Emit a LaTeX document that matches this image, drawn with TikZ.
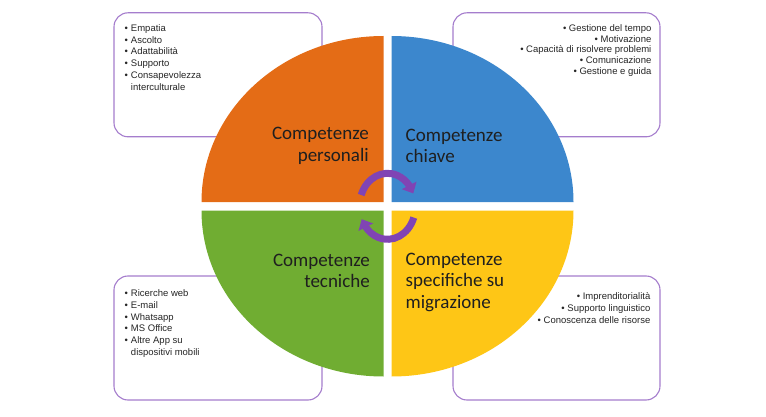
\documentclass[tikz,border=0pt]{standalone}
\usepackage{fontspec}
\setmainfont{Carlito}
\newfontfamily\listfont{Liberation Sans}
\usetikzlibrary{arrows.meta, bending, positioning, calc}

\definecolor{qorange}{RGB}{228,108,22}
\definecolor{qblue}{RGB}{60,135,205}
\definecolor{qgreen}{RGB}{112,173,50}
\definecolor{qyellow}{RGB}{254,198,22}
\definecolor{boxline}{RGB}{165,125,205}
\definecolor{cycpurple}{RGB}{128,68,180}

\begin{document}
\begin{tikzpicture}[
    x=1pt, y=-1pt,
    infobox/.style={rectangle, draw=boxline, line width=1.1pt, fill=white, rounded corners=14pt, minimum width=208pt, minimum height=124pt, inner sep=0pt},
    listl/.style={inner sep=0pt, font=\listfont\fontsize{9.5}{11.8}\selectfont, text=black!85},
    listr/.style={inner sep=0pt, align=right, font=\listfont\fontsize{9.5}{10.7}\selectfont, text=black!85},
    title/.style={inner sep=0pt, font=\fontsize{19}{21.5}\selectfont, text=black!88},
    cyc/.style={draw=cycpurple, line width=7pt, -{Triangle[width=16pt,length=9pt]}},
]
\useasboundingbox (0,0) rectangle (766,417);

% boxes behind the circle
\node[infobox] (boxpers) at (218,74.8) {};
\node[infobox, minimum width=207pt] (boxchiave) at (556.5,74.8) {};
\node[infobox] (boxtec) at (218,338) {};
\node[infobox, minimum width=207pt] (boxmig) at (556.5,338) {};

\node[listl, below right=10.5pt and 11pt of boxpers.north west] (listpers) {%
  \begin{tabular}{@{}l@{\hspace{3pt}}l@{}}
  \textbullet & Empatia\\
  \textbullet & Ascolto\\
  \textbullet & Adattabilità\\
  \textbullet & Supporto\\
  \textbullet & Consapevolezza\\
              & interculturale
  \end{tabular}};
\node[listr, below left=12pt and 9pt of boxchiave.north east] (listchiave) {%
  \textbullet\ Gestione del tempo\\
  \textbullet\ Motivazione\\
  \textbullet\ Capacità di risolvere problemi\\
  \textbullet\ Comunicazione\\
  \textbullet\ Gestione e guida};
\node[listl, below right=12.5pt and 11pt of boxtec.north west] (listtec) {%
  \begin{tabular}{@{}l@{\hspace{3pt}}l@{}}
  \textbullet & Ricerche web\\
  \textbullet & E-mail\\
  \textbullet & Whatsapp\\
  \textbullet & MS Office\\
  \textbullet & Altre App su\\
              & dispositivi mobili
  \end{tabular}};
\node[listr, font=\listfont\fontsize{9.5}{11.8}\selectfont, below left=17pt and 10pt of boxmig.north east] (listmig) {%
  \textbullet\ Imprenditorialità\\
  \textbullet\ Supporto linguistico\\
  \textbullet\ Conoscenza delle risorse};

% four quadrants
\coordinate (hub) at (387.5,206.3);
\fill[qorange] ($(hub)+(-4,-4.3)$) -- ++(-182,0) arc[start angle=180, end angle=270, x radius=182, y radius=166] -- cycle;
\fill[qblue] ($(hub)+(4,-4.3)$) -- ++(0,-166) arc[start angle=270, end angle=360, x radius=182, y radius=166] -- cycle;
\fill[qyellow] ($(hub)+(4,4.2)$) -- ++(182,0) arc[start angle=0, end angle=90, x radius=182, y radius=166] -- cycle;
\fill[qgreen] ($(hub)+(-4,4.2)$) -- ++(0,166) arc[start angle=90, end angle=180, x radius=182, y radius=166] -- cycle;

\node[title, align=right, anchor=east] (tpers) at (369,146) {Competenze\\personali};
\node[title, align=left, anchor=west] (tchiave) at (405.5,146) {Competenze\\chiave};
\node[title, align=right, anchor=east] (ttec) at (370,271) {Competenze\\tecniche};
\node[title, align=left, anchor=west] (tmig) at (405.5,282) {Competenze\\specifiche su\\migrazione};

% circular arrows
\draw[cyc] ([shift={(200:28 and 33)}]hub) arc[start angle=200, end angle=337, x radius=28, y radius=33];
\draw[cyc] ([shift={(20:28 and 33)}]hub) arc[start angle=20, end angle=157, x radius=28, y radius=33];
\end{tikzpicture}
\end{document}
